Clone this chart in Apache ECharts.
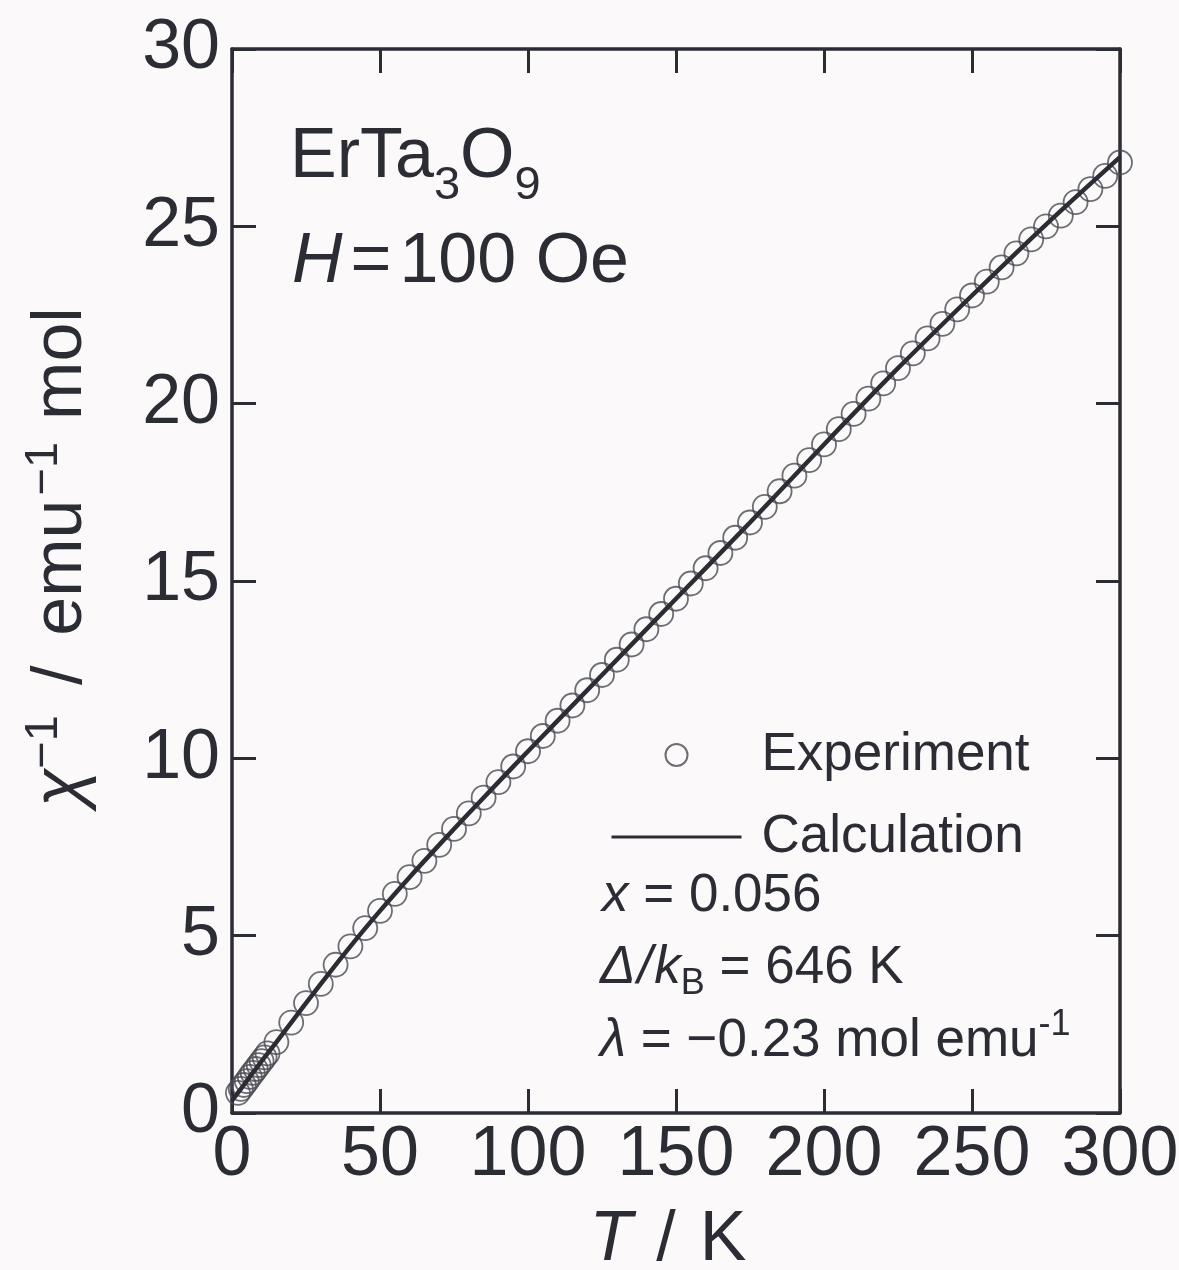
<!DOCTYPE html>
<html>
<head>
<meta charset="utf-8">
<title></title>
<script src="https://cdn.jsdelivr.net/npm/echarts@6/dist/echarts.min.js"></script>
</head>
<body style="margin:0;background:#fbf9fa;">
<div id="main" style="width:1179px;height:1270px;"></div>
<script>
// measured points (circles)
var expT = [2, 3, 4, 5, 6, 7, 8, 9, 10, 11, 12,
  15, 20, 25, 30, 35, 40, 45, 50, 55, 60, 65, 70, 75, 80, 85, 90, 95, 100,
  105, 110, 115, 120, 125, 130, 135, 140, 145, 150, 155, 160, 165, 170, 175, 180,
  185, 190, 195, 200, 205, 210, 215, 220, 225, 230, 235, 240, 245, 250,
  255, 260, 265, 270, 275, 280, 285, 290, 295, 300];
var expChi = [0.57, 0.68, 0.79, 0.9, 1.02, 1.13, 1.24, 1.35, 1.46, 1.57, 1.68,
  2.0, 2.55, 3.1, 3.64, 4.18, 4.7, 5.21, 5.7, 6.18, 6.65, 7.11, 7.56, 8.01, 8.45, 8.89, 9.33, 9.77, 10.2,
  10.63, 11.06, 11.49, 11.92, 12.35, 12.78, 13.21, 13.64, 14.07, 14.5, 14.93, 15.36, 15.79, 16.22, 16.65, 17.09,
  17.53, 17.97, 18.41, 18.85, 19.28, 19.71, 20.14, 20.57, 21.0, 21.42, 21.84, 22.25, 22.66, 23.05,
  23.44, 23.84, 24.24, 24.63, 25.0, 25.3, 25.68, 26.05, 26.42, 26.8];

// calculated curve
var calcT = [0, 2, 4, 6, 8, 10, 15, 20, 30, 40, 50, 60, 70, 80, 90, 100, 125, 150, 175, 200, 225, 250, 275, 300];
var calcChi = [0.35, 0.57, 0.79, 1.02, 1.24, 1.46, 2.0, 2.55, 3.64, 4.7, 5.7, 6.65, 7.56, 8.45, 9.33, 10.2, 12.35, 14.5, 16.65, 18.85, 21.0, 23.05, 25.05, 26.95];

var xTicks = [0, 50, 100, 150, 200, 250, 300];
var yTicks = [0, 5, 10, 15, 20, 25, 30];

var ink = '#2c2c34';
var ff = '"Liberation Sans", Arial, Helvetica, sans-serif';

var ctx = document.createElement('canvas').getContext('2d');
function fontOf(p, fs) { return (p.it ? 'italic ' : '') + (p.fs || fs) + 'px ' + ff; }
function textW(p, fs) { ctx.font = fontOf(p, fs); return ctx.measureText(p.t).width; }

// lay a run of text pieces along a baseline; rot = true for bottom-to-top text
function run(x0, base, fs, parts, opts) {
  opts = opts || {};
  var total = 0;
  parts.forEach(function (p) { total += (p.g || 0) + textW(p, fs); });
  var u = opts.center ? -total / 2 : 0;
  var out = [];
  parts.forEach(function (p) {
    u += p.g || 0;
    var f = p.fs || fs;
    var v = (p.dy || 0) - 0.3465 * f; // centre of the em box relative to the baseline
    var x = opts.rot ? x0 + v : x0 + u;
    var y = opts.rot ? base - u : base + v;
    out.push({
      type: 'text', x: x, y: y, rotation: opts.rot ? Math.PI / 2 : 0, silent: true,
      style: { x: 0, y: 0, text: p.t, font: fontOf(p, fs), fill: ink,
        align: 'left', textAlign: 'left', verticalAlign: 'middle', textVerticalAlign: 'middle' }
    });
    u += textW(p, fs);
  });
  return out;
}

var labels = [].concat(
  run(290, 182, 70, [{ t: 'ErTa' }, { t: '3', fs: 47, dy: 20 }, { t: 'O' }, { t: '9', fs: 47, dy: 20 }]),
  run(292, 287, 70, [{ t: 'H', it: 1 }, { t: '=', g: 8 }, { t: '100 Oe', g: 8 }]),
  run(602, 915, 53, [{ t: 'x', it: 1 }, { t: ' = 0.056' }]),
  run(600, 987, 53, [{ t: '\u0394', it: 1 }, { t: '/', it: 1, g: 2 }, { t: 'k', it: 1, g: 2 }, { t: 'B', fs: 36, dy: 10 }, { t: ' = 646 K' }]),
  run(600, 1060, 53, [{ t: '\u03bb', it: 1 }, { t: ' = \u22120.23 mol emu' }, { t: '-1', fs: 36, dy: -22 }]),
  run(668, 1265, 70, [{ t: 'T', it: 1 }, { t: '/', g: 24 }, { t: 'K', g: 24 }], { center: true }),
  run(86, 557, 70, [{ t: '\u03c7', it: 1 }, { t: '\u22121', fs: 47, dy: -26 }, { t: '/', g: 30 },
    { t: 'emu', g: 30 }, { t: '\u22121', fs: 47, dy: -26, g: 4 }, { t: 'mol', g: 22 }], { center: true, rot: true })
);

var myChart = echarts.init(document.getElementById('main'));
var axisLine = { onZero: false, lineStyle: { color: ink, width: 3.5 } };
var tick = { inside: true, length: 24, lineStyle: { color: ink, width: 3 } };

option = {
  backgroundColor: '#fbf9fa',
  animation: false,
  grid: { left: 232, right: 59, top: 49, bottom: 157, outerBoundsMode: 'none' },
  xAxis: [
    { type: 'value', min: xTicks[0], max: xTicks[xTicks.length - 1], interval: xTicks[1] - xTicks[0],
      axisLine: axisLine, axisTick: tick, splitLine: { show: false },
      axisLabel: { fontSize: 70, fontFamily: ff, color: ink, margin: 8 } },
    { type: 'value', position: 'top', min: xTicks[0], max: xTicks[xTicks.length - 1], interval: xTicks[1] - xTicks[0],
      axisLine: axisLine, axisTick: tick, splitLine: { show: false }, axisLabel: { show: false } }
  ],
  yAxis: [
    { type: 'value', min: yTicks[0], max: yTicks[yTicks.length - 1], interval: yTicks[1] - yTicks[0],
      axisLine: axisLine, axisTick: tick, splitLine: { show: false },
      axisLabel: { fontSize: 70, fontFamily: ff, color: ink, margin: 12 } },
    { type: 'value', position: 'right', min: yTicks[0], max: yTicks[yTicks.length - 1], interval: yTicks[1] - yTicks[0],
      axisLine: axisLine, axisTick: tick, splitLine: { show: false }, axisLabel: { show: false } }
  ],
  legend: {
    orient: 'vertical', left: 605, top: 722,
    itemWidth: 130, itemHeight: 22, itemGap: 26,
    textStyle: { fontSize: 53, fontFamily: ff, color: ink, lineHeight: 56, padding: [0, 0, 0, 15] },
    data: [
      { name: 'Experiment' },
      { name: 'Calculation', itemStyle: { opacity: 0 }, lineStyle: { width: 3, color: ink } }
    ]
  },
  graphic: labels,
  series: [
    {
      name: 'Experiment', type: 'scatter', xAxisIndex: 0, yAxisIndex: 0,
      symbol: 'circle', symbolSize: 24,
      itemStyle: { color: 'rgba(0,0,0,0)', borderColor: '#4a4a52', borderWidth: 1.8 },
      data: expT.map(function (t, i) { return [t, expChi[i]]; }),
      z: 2
    },
    {
      name: 'Calculation', type: 'line', xAxisIndex: 0, yAxisIndex: 0,
      symbol: 'none', smooth: 0.3,
      lineStyle: { color: ink, width: 4.5 },
      itemStyle: { color: ink },
      data: calcT.map(function (t, i) { return [t, calcChi[i]]; }),
      z: 3
    }
  ]
};
myChart.setOption(option);
</script>
</body>
</html>
